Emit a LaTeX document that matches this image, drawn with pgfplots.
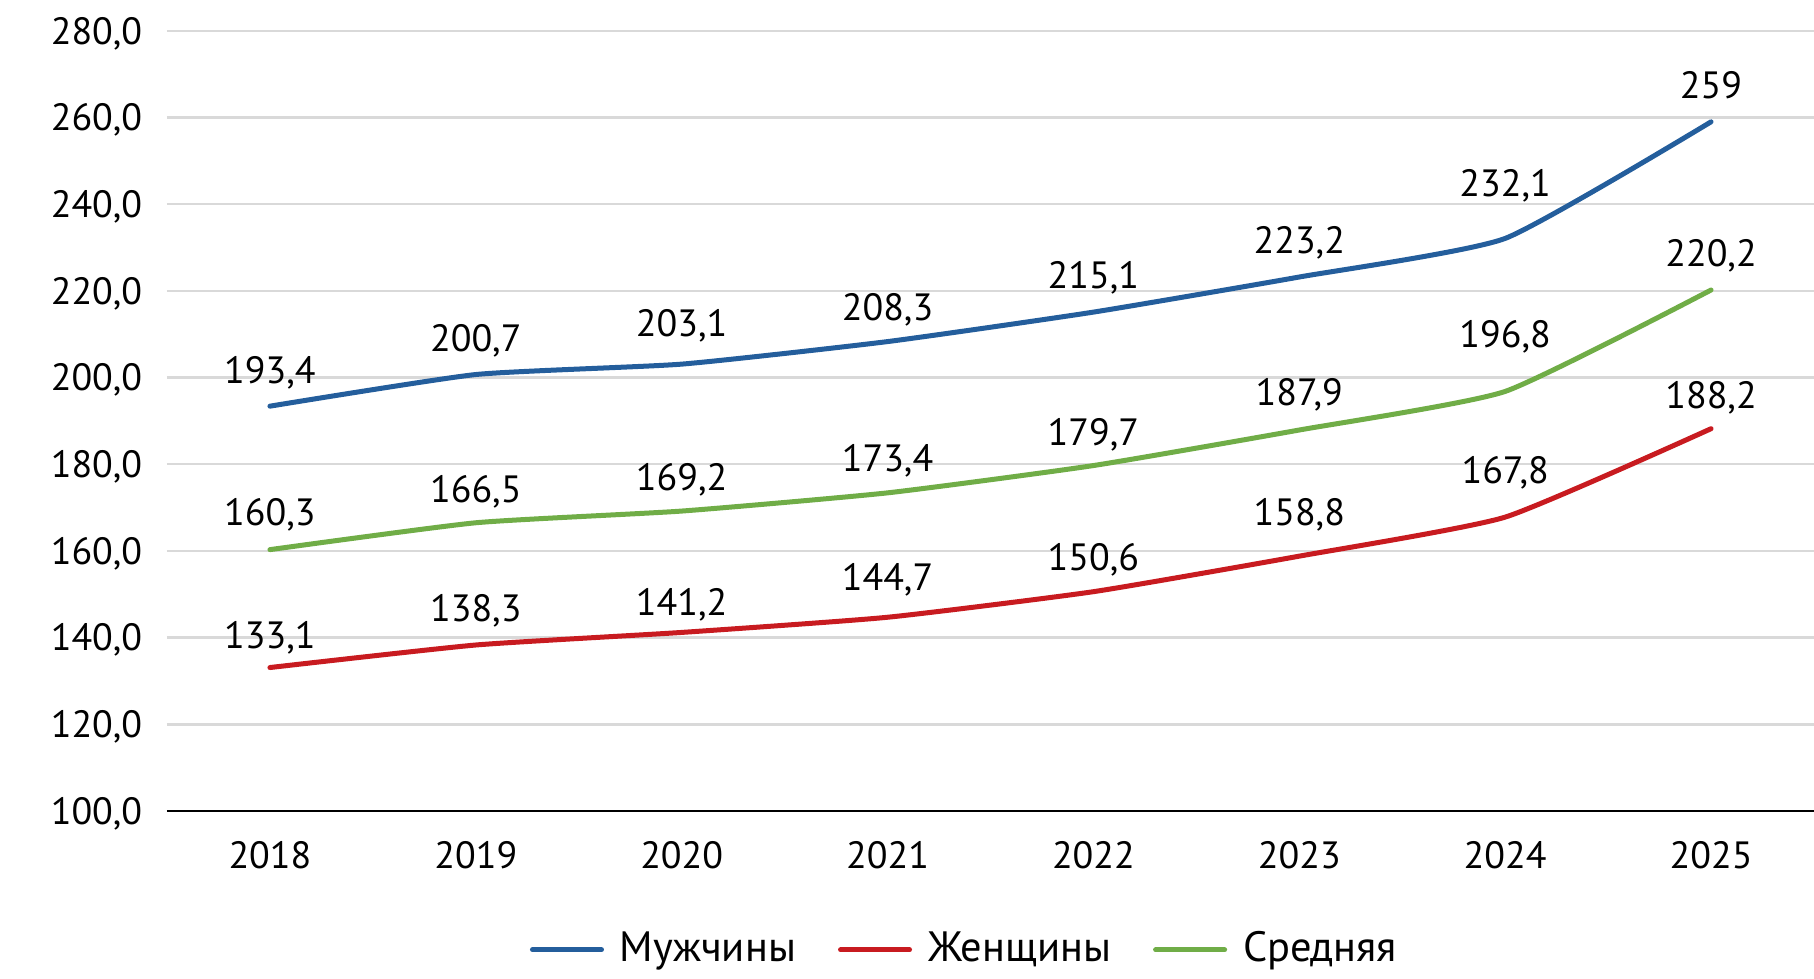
\documentclass[border=0pt]{standalone}
\usepackage{pgfplots}
\pgfplotsset{compat=1.18}
\usepackage{pgfplotstable}
\usepackage{fontspec}
\setmainfont{PT Sans}
\definecolor{cblue}{HTML}{245E9C}
\definecolor{cred}{HTML}{C81B20}
\definecolor{cgreen}{HTML}{70AD47}
\definecolor{cgrid}{HTML}{D9D9D9}

\pgfplotstableread{
x y ly lab
0 193.4 201.8 193,4
1 200.7 209.0 200,7
2 203.1 212.6 203,1
3 208.3 216.3 208,3
4 215.1 223.6 215,1
5 223.2 231.7 223,2
6 232.1 244.8 232,1
7 259.0 267.4 259
}\men
\pgfplotstableread{
x y ly lab
0 133.1 140.6 133,1
1 138.3 146.9 138,3
2 141.2 148.3 141,2
3 144.7 154.0 144,7
4 150.6 158.5 150,6
5 158.8 169.0 158,8
6 167.8 178.7 167,8
7 188.2 196.0 188,2
}\women
\pgfplotstableread{
x y ly lab
0 160.3 169.0 160,3
1 166.5 174.3 166,5
2 169.2 177.0 169,2
3 173.4 181.4 173,4
4 179.7 187.5 179,7
5 187.9 196.7 187,9
6 196.8 210.0 196,8
7 220.2 228.6 220,2
}\avg

\newcommand{\tickfont}{\fontsize{9.5pt}{11pt}\selectfont}
\newcommand{\legfont}{\fontsize{10.6pt}{12pt}\selectfont}

\begin{document}
\begin{tikzpicture}
\begin{axis}[
  scale only axis,
  width=411.75pt, height=195.05pt,
  xmin=-0.5, xmax=7.5, ymin=100, ymax=280,
  ytick={100,120,...,280},
  xtick={0,...,7},
  xticklabels={2018,2019,2020,2021,2022,2023,2024,2025},
  axis x line*=bottom, axis y line*=left,
  y axis line style={draw=none},
  x axis line style={-, black, line width=0.6pt},
  every outer x axis line/.append style={-},
  major tick length=0pt,
  ymajorgrids, grid style={cgrid, line width=0.6pt},
  /pgf/number format/.cd, fixed, fixed zerofill, precision=1, use comma, assume math mode=true,
  /pgfplots/.cd,
  tick label style={font=\tickfont},
  yticklabel style={anchor=base east, inner sep=0pt, xshift=-6pt, yshift=-3.34pt},
  xticklabel style={anchor=base, inner sep=0pt, yshift=-14.34pt},
  clip=false,
  legend style={at={(0.2204,-0.178)}, anchor=west, draw=none, fill=none,
    inner sep=0pt, outer sep=0pt, font=\legfont, legend columns=-1,
    nodes={inner sep=0pt},
    /tikz/every odd column/.append style={column sep=4pt},
    /tikz/every even column/.append style={column sep=10.5pt}},
  legend image code/.code={\draw[#1, line width=1.25pt, line cap=round] (0pt,0pt) -- (17.25pt,0pt);},
  label node/.style={draw=none, forget plot, point meta=explicit symbolic,
    nodes near coords, nodes near coords style={anchor=base, inner sep=0pt, yshift=-3.34pt, font=\tickfont, text=black}},
]
\addplot[cblue, line width=1.25pt, line cap=round, line join=round, smooth, tension=0.3] table[x=x, y=y] {\men};
\addlegendentry{Мужчины}
\addplot[cred, line width=1.25pt, line cap=round, line join=round, smooth, tension=0.3] table[x=x, y=y] {\women};
\addlegendentry{Женщины}
\addplot[cgreen, line width=1.25pt, line cap=round, line join=round, smooth, tension=0.3] table[x=x, y=y] {\avg};
\addlegendentry{Средняя}
\addplot[label node] table[x=x, y=ly, meta=lab] {\men};
\addplot[label node] table[x=x, y=ly, meta=lab] {\women};
\addplot[label node] table[x=x, y=ly, meta=lab] {\avg};
\end{axis}
\pgfresetboundingbox
\path[use as bounding box] (-41.75pt,-41.75pt) rectangle (411.75pt,202.75pt);
\end{tikzpicture}
\end{document}
